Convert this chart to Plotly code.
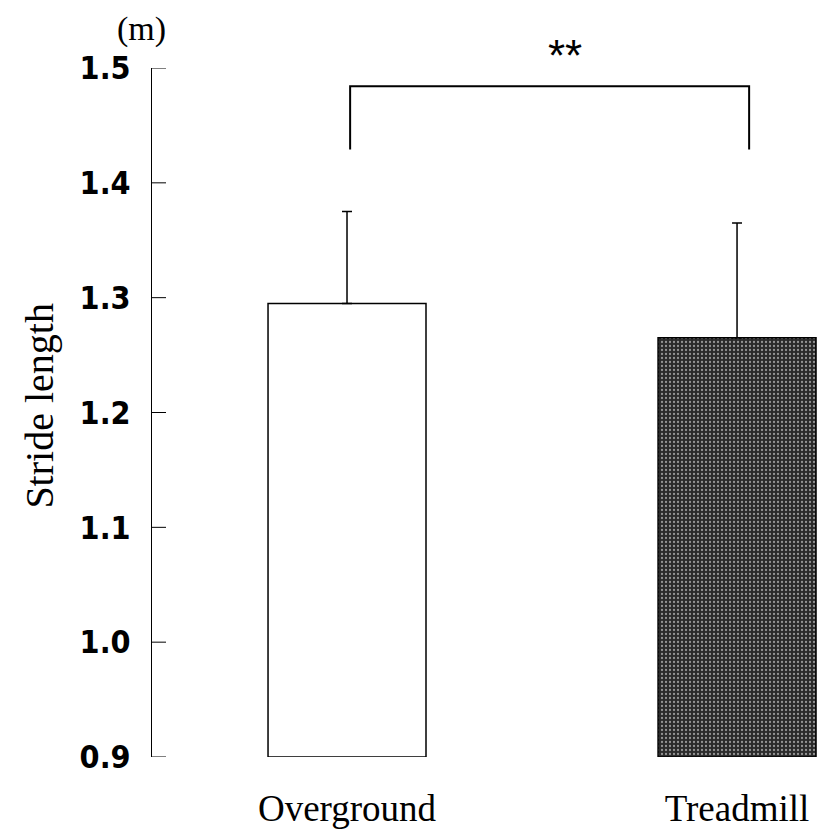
import plotly.graph_objects as go

# ---- data ----
categories = ["Overground", "Treadmill"]
means = [1.295, 1.265]
sd_plus = [0.080, 0.100]
y_ticks = [0.9, 1.0, 1.1, 1.2, 1.3, 1.4, 1.5]
y_tick_labels = ["0.9", "1.0", "1.1", "1.2", "1.3", "1.4", "1.5"]
y_range = [0.9, 1.5]
x_range = [-0.5, 1.205]
bracket_x = [0.008, 1.031]
bracket_top = 1.484
bracket_leg = 1.429
sig_label = "**"
sig_x = 0.56
sig_y = 1.511

x_pos = list(range(len(categories)))

fig = go.Figure()
fig.add_trace(go.Bar(
    x=x_pos,
    y=[m - y_range[0] for m in means],
    base=y_range[0],
    width=0.405,
    marker=dict(
        color=["white", "#2a2a2a"],
        line=dict(color="black", width=1.5),
        pattern=dict(shape=["", "."], fgcolor="#7a7a7a", size=4, solidity=0.25),
    ),
    error_y=dict(type="data", symmetric=False, array=sd_plus,
                 arrayminus=[0, 0], color="black", thickness=1.5, width=5),
    showlegend=False,
))

# inward-pointing y ticks (left half clipped by the plot area)
fig.add_trace(go.Scatter(
    x=[x_range[0]] * len(y_ticks), y=y_ticks, mode="markers",
    marker=dict(symbol="line-ew", size=20, line=dict(color="black", width=1)),
    showlegend=False, hoverinfo="skip", cliponaxis=True,
))

# significance bracket
fig.add_trace(go.Scatter(
    x=[bracket_x[0], bracket_x[0], bracket_x[1], bracket_x[1]],
    y=[bracket_leg, bracket_top, bracket_top, bracket_leg],
    mode="lines", line=dict(color="black", width=2),
    showlegend=False, hoverinfo="skip", cliponaxis=False,
))

fig.add_annotation(x=sig_x, xref="x",
                   y=(sig_y - y_range[0]) / (y_range[1] - y_range[0]), yref="paper",
                   xanchor="center", yanchor="middle",
                   text=sig_label, showarrow=False,
                   font=dict(family="Liberation Sans", size=44, color="black"))
fig.add_annotation(x=-0.0165, y=1.0566, xref="paper", yref="paper",
                   xanchor="center", yanchor="middle",
                   text="(m)", showarrow=False,
                   font=dict(family="Liberation Serif", size=34, color="black"))
fig.add_annotation(x=-0.1684, y=0.51, xref="paper", yref="paper",
                   xanchor="center", yanchor="middle",
                   text="Stride length", showarrow=False, textangle=-90,
                   font=dict(family="Liberation Serif", size=40, color="black"))

fig.update_layout(
    width=817, height=832,
    margin=dict(l=152, r=0, t=68, b=75),
    paper_bgcolor="white", plot_bgcolor="white",
    xaxis=dict(
        range=x_range, tickmode="array", tickvals=x_pos, ticktext=categories,
        showline=False, showgrid=False, zeroline=False, ticks="",
        tickfont=dict(family="Liberation Serif", size=37, color="black"),
        ticklabelstandoff=26,
    ),
    yaxis=dict(
        range=y_range, tickmode="array", tickvals=y_ticks, ticktext=y_tick_labels,
        showline=True, linecolor="black", linewidth=1,
        ticks="", showgrid=False, zeroline=False,
        tickfont=dict(family="DejaVu Sans Condensed, Liberation Sans Narrow, Liberation Sans",
                      size=32, color="black", weight="bold"),
        ticklabelstandoff=14,
    ),
)

fig.write_html("out.html")
